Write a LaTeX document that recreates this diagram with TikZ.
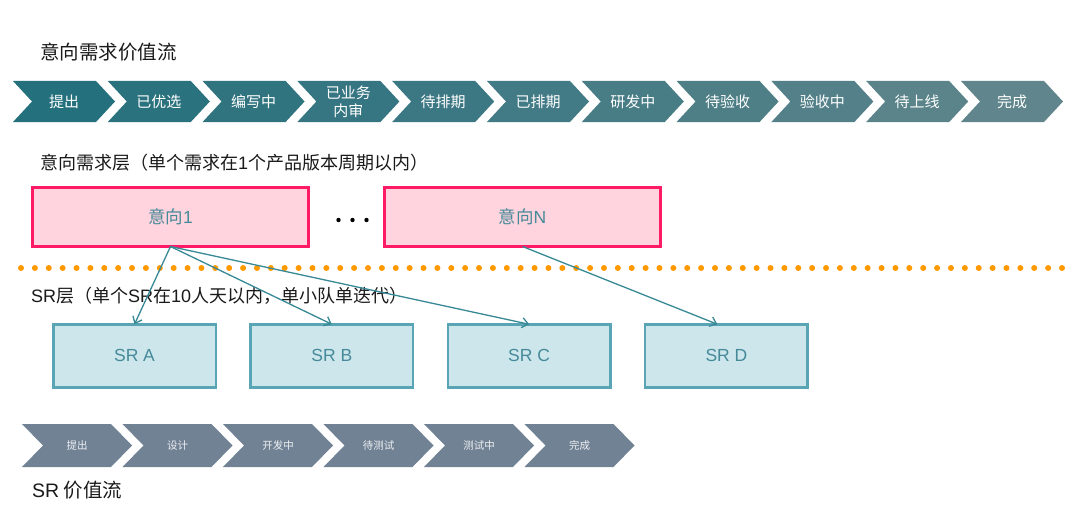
\documentclass[tikz,border=0pt]{standalone}
\usepackage{fontspec}
\setmainfont{Noto Sans CJK SC}
\newfontfamily\latinfont{Liberation Sans}
\usetikzlibrary{arrows.meta, positioning}

\definecolor{vsStart}{RGB}{36,112,125}
\definecolor{vsEnd}{RGB}{96,133,140}
\definecolor{srFlow}{RGB}{113,130,149}
\definecolor{intentLine}{RGB}{255,26,102}
\definecolor{intentFill}{RGB}{255,212,222}
\definecolor{srLine}{RGB}{90,165,181}
\definecolor{srFill}{RGB}{204,230,236}
\definecolor{boxText}{RGB}{70,138,153}
\definecolor{linkColor}{RGB}{56,137,150}
\definecolor{sepDots}{RGB}{255,153,0}
\definecolor{headText}{RGB}{26,26,26}

\newcommand{\headfont}{\fontsize{19.5}{22}\selectfont}
\newcommand{\layerfont}{\fontsize{18}{21}\selectfont}
\newcommand{\boxfont}{\fontsize{17.5}{20}\selectfont}
\newcommand{\flowfont}{\fontsize{15}{18}\selectfont}
\newcommand{\srflowfont}{\fontsize{10.5}{12}\selectfont}
\newcommand{\lt}[1]{{\latinfont #1}}

\tikzset{
  heading/.style = {anchor=west, inner sep=0pt, text=headText, font=\headfont},
  layerlabel/.style = {heading, font=\layerfont},
  flowlabel/.style = {text=white, align=center, inner sep=0pt, font=\flowfont},
  srflowlabel/.style = {text=white!88!srFlow, inner sep=0pt, font=\srflowfont},
  intentbox/.style = {draw=intentLine, fill=intentFill, line width=2.5pt,
    minimum width=276pt, minimum height=59pt, outer sep=0pt,
    text=boxText, font=\boxfont},
  srbox/.style = {draw=srLine, fill=srFill, line width=2.5pt,
    minimum width=162.5pt, minimum height=63pt, outer sep=0pt,
    text=boxText, font=\boxfont},
  larrow/.style = {draw=linkColor, line width=1.3pt,
    -{Straight Barb[length=6pt, width=10pt]}},
  sepline/.style = {draw=sepDots, line width=6pt, line cap=round,
    dash pattern=on 0pt off 13.88pt},
}

\begin{document}
\begin{tikzpicture}[x=1pt, y=-1pt]
    \useasboundingbox[fill=white] (0,0) rectangle (1080,511);

    % intent value stream
    \node[heading] (vsTitle) at (40,52.5) {意向需求价值流};
    \foreach \Stage [count=\i from 0] in {%
        提出, 已优选, 编写中, {已业务\\内审}, 待排期, 已排期,
        研发中, 待验收, 验收中, 待上线, 完成%
    } {
        \pgfmathsetmacro{\x}{13+94.8*\i}
        \pgfmathtruncatemacro{\mix}{100-10*\i}
        \fill[vsStart!\mix!vsEnd] (\x,81) -- ++(83,0) -- ++(19,20.5)
            -- ++(-19,20.5) -- ++(-83,0) -- ++(19,-20.5) -- cycle;
        \node[flowlabel] (vs\i) at (\x+51,101.5) {\Stage};
    }

    % intent layer
    \node[layerlabel] (intentLayer) at (40,163)
        {意向需求层（单个需求在\lt{1}个产品版本周期以内）};
    \node[intentbox] (i1) at (170.5,217) {意向\lt{1}};
    \node[intentbox] (iN) [right=76pt of i1] {意向\lt{N}};
    \foreach \dx in {-14,0,14}
        \fill (352.5+\dx,220) circle (2.2pt);

    \draw[sepline] (21,268) -- (1062,268);

    % SR layer
    \node[layerlabel] (srLayer) at (31,295.5)
        {\lt{SR}层（单个\lt{SR}在\lt{10}人天以内，单小队单迭代）};
    \node[srbox] (srA) at (134.5,355.75) {\lt{SR A}};
    \node[srbox] (srB) [right=34.8pt of srA] {\lt{SR B}};
    \node[srbox] (srC) [right=34.8pt of srB] {\lt{SR C}};
    \node[srbox] (srD) [right=34.8pt of srC] {\lt{SR D}};

    \foreach \Target in {srA, srB, srC}
        \draw[larrow] (i1.south) -- (\Target.north);
    \draw[larrow] (iN.south) -- (srD.106);

    % SR value stream
    \foreach \Stage [count=\i from 0] in {提出, 设计, 开发中, 待测试, 测试中, 完成} {
        \pgfmathsetmacro{\x}{22+100.5*\i}
        \fill[srFlow] (\x,424) -- ++(89,0) -- ++(21,21.5)
            -- ++(-21,21.5) -- ++(-89,0) -- ++(21,-21.5) -- cycle;
        \node[srflowlabel] (sr\i) at (\x+55,445.5) {\Stage};
    }
    \node[heading] (srTitle) at (32,490) {\lt{SR} 价值流};
\end{tikzpicture}
\end{document}
